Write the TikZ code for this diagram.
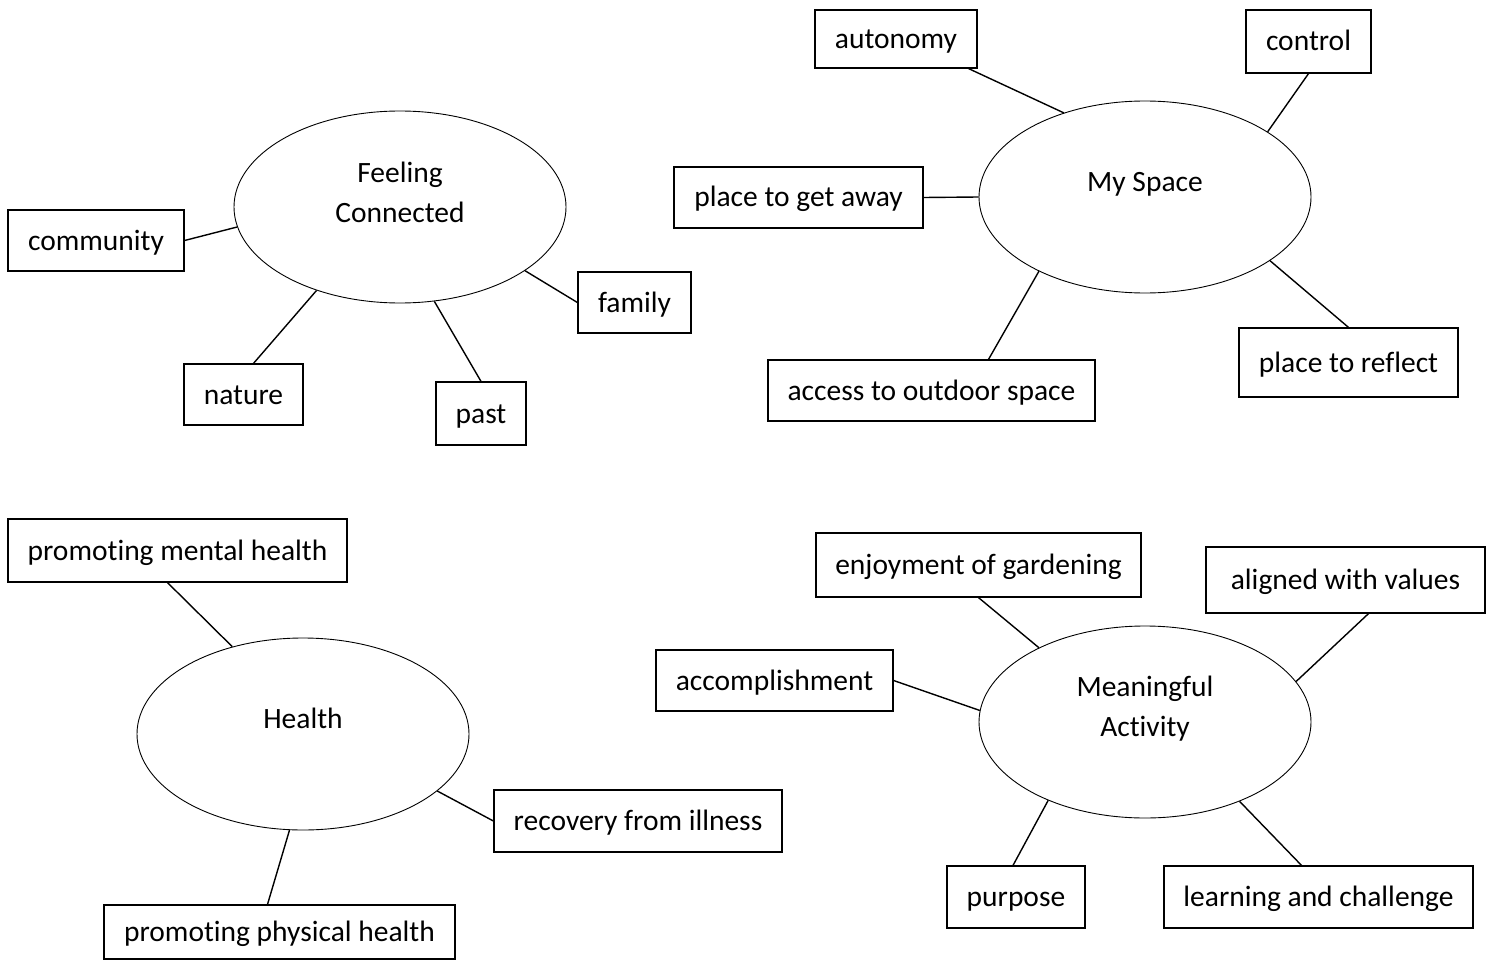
\documentclass[tikz,border=0pt]{standalone}
\usepackage{fontspec}
\setmainfont{Carlito}[Ligatures=NoCommon]
\usetikzlibrary{shapes.geometric}
\begin{document}
\begin{tikzpicture}[x=1pt,y=-1pt,
  box/.style={draw, line width=1.2pt, rectangle, inner sep=0pt, text height=24pt, text depth=5pt, font=\fontsize{29.5}{35}\selectfont},
  ell/.style={draw, line width=0.9pt, ellipse, minimum width=332pt, minimum height=192pt, inner sep=0pt},
  lbl/.style={align=center, inner sep=0pt, font=\fontsize{29.5}{40}\selectfont},
  con/.style={line width=1.4pt}]
\useasboundingbox (0,0) rectangle (1495,960);

% Feeling Connected
\node[ell] (fc) at (400,207) {};
\node[lbl] (fct) at (400,192) {Feeling\\Connected};
\node[box, minimum width=176pt, minimum height=61pt] (community) at (96,240.5) {community};
\node[box, minimum width=113pt, minimum height=61pt] (family) at (634.5,302.5) {family};
\node[box, minimum width=119pt, minimum height=61pt] (nature) at (243.5,394.5) {nature};
\node[box, minimum width=90pt, minimum height=63pt] (past) at (481,413.5) {past};
\draw[con] (community.east) -- (fc.187.5);
\draw[con] (family.west) -- (fc.-27);
\draw[con] ([xshift=10pt]nature.north) -- (fc.225);
\draw[con] (past.north) -- (fc.290);

% My Space
\node[ell] (ms) at (1145,197) {};
\node[lbl] (mst) at (1145,184) {My Space};
\node[box, minimum width=162pt, minimum height=58pt] (autonomy) at (896,39) {autonomy};
\node[box, minimum width=125pt, minimum height=63pt] (control) at (1308.5,41.5) {control};
\node[box, minimum width=249pt, minimum height=61pt] (getaway) at (798.5,197.5) {place to get away};
\node[box, minimum width=219pt, minimum height=69pt] (reflect) at (1348.5,362.5) {place to reflect};
\node[box, minimum width=327pt, minimum height=61pt] (access) at (931.5,390.5) {access to outdoor space};
\draw[con] ([xshift=-9pt]autonomy.south east) -- (ms.134);
\draw[con] (control.south) -- (ms.28);
\draw[con] (getaway.east) -- (ms.180);
\draw[con] (reflect.north) -- (ms.-27);
\draw[con] ([xshift=57pt]access.north) -- (ms.215);

% Health
\node[ell] (he) at (303,734) {};
\node[lbl] (het) at (303,718) {Health};
\node[box, minimum width=339pt, minimum height=63pt] (mental) at (177.5,550.5) {promoting mental health};
\node[box, minimum width=288pt, minimum height=62pt] (recovery) at (638,821) {recovery from illness};
\node[box, minimum width=351pt, minimum height=54pt] (physical) at (279.5,932) {promoting physical health};
\draw[con] ([xshift=-10pt]mental.south) -- (he.129);
\draw[con] (recovery.west) -- (he.-23);
\draw[con] ([xshift=-12pt]physical.north) -- (he.262);

% Meaningful Activity
\node[ell] (ma) at (1145,722) {};
\node[lbl] (mat) at (1145,709) {Meaningful\\Activity};
\node[box, minimum width=325pt, minimum height=64pt] (enjoy) at (978.5,565) {enjoyment of gardening};
\node[box, minimum width=279pt, minimum height=66pt] (aligned) at (1345.5,580) {aligned with values};
\node[box, minimum width=237pt, minimum height=61pt] (accompl) at (774.5,680.5) {accomplishment};
\node[box, minimum width=138pt, minimum height=62pt] (purpose) at (1016,897) {purpose};
\node[box, minimum width=309pt, minimum height=62pt] (learning) at (1318.5,897) {learning and challenge};
\draw[con] (enjoy.south) -- (ma.145);
\draw[con] ([xshift=23pt]aligned.south) -- (ma.15);
\draw[con] (accompl.east) -- (ma.176);
\draw[con] ([xshift=-3pt]purpose.north) -- (ma.219);
\draw[con] ([xshift=-17pt]learning.north) -- (ma.-40);
\end{tikzpicture}
\end{document}
